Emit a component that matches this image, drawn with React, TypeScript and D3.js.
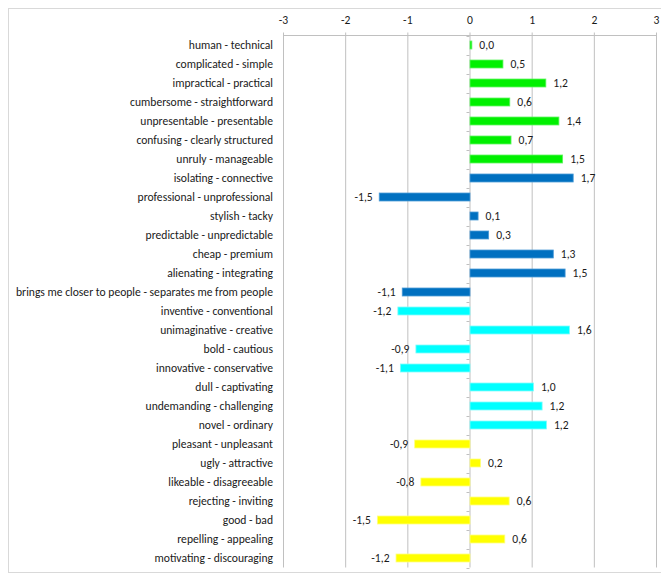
import * as d3 from 'd3';
import React, { useEffect, useRef } from 'react';

const labels = [
  'human - technical',
  'complicated - simple',
  'impractical - practical',
  'cumbersome - straightforward',
  'unpresentable - presentable',
  'confusing - clearly structured',
  'unruly - manageable',
  'isolating - connective',
  'professional - unprofessional',
  'stylish - tacky',
  'predictable - unpredictable',
  'cheap - premium',
  'alienating - integrating',
  'brings me closer to people - separates me from people',
  'inventive - conventional',
  'unimaginative - creative',
  'bold - cautious',
  'innovative - conservative',
  'dull - captivating',
  'undemanding - challenging',
  'novel - ordinary',
  'pleasant - unpleasant',
  'ugly - attractive',
  'likeable - disagreeable',
  'rejecting - inviting',
  'good - bad',
  'repelling - appealing',
  'motivating - discouraging',
];

const values = [
  0.03, 0.53, 1.22, 0.64, 1.43, 0.66, 1.49,
  1.66, -1.46, 0.13, 0.3, 1.34, 1.53, -1.09,
  -1.16, 1.6, -0.87, -1.12, 1.02, 1.16, 1.23,
  -0.89, 0.17, -0.79, 0.63, -1.49, 0.56, -1.19,
];

// group of each row: 0 = pragmatic, 1 = identity, 2 = hedonic stimulation, 3 = attractiveness
const groups = [
  0, 0, 0, 0, 0, 0, 0,
  1, 1, 1, 1, 1, 1, 1,
  2, 2, 2, 2, 2, 2, 2,
  3, 3, 3, 3, 3, 3, 3,
];

const groupColors = ['#00f000', '#0070c0', '#00ffff', '#ffff00'];
const groupStroke = ['#5ef55e', '#4a9ad6', '#7ffcfc', '#ffff80'];
const xTicks = [-3, -2, -1, 0, 1, 2, 3];

const W = 661;
const H = 574;
const fmt = (v: number) => v.toFixed(1).replace('.', ',');

export default function App() {
  const svgRef = useRef<SVGSVGElement>(null);

  useEffect(() => {
    const svg = d3.select(svgRef.current).html('');
    const font = 'Carlito, Calibri, Lato, sans-serif';
    const fs = 11.6;
    const ink = '#1a1a1a';

    const x = d3.scaleLinear().domain([-3, 3]).range([283, 656]);
    const y = d3.scaleBand<number>()
      .domain(d3.range(labels.length))
      .range([35.5, 567.5])
      .paddingInner(0.58)
      .paddingOuter(0.29);
    const step = y.step();
    const top = 35.5;
    const bottom = 567.5;

    // outer border
    svg.append('rect')
      .attr('x', 8.5).attr('y', 8.5)
      .attr('width', W + 10).attr('height', 564)
      .attr('fill', 'white').attr('stroke', '#d9d9d9');

    // vertical gridlines
    svg.append('g')
      .selectAll('line')
      .data(xTicks)
      .enter().append('line')
      .attr('x1', d => x(d) + 0.5).attr('x2', d => x(d) + 0.5)
      .attr('y1', top - 3).attr('y2', bottom)
      .attr('stroke', '#c0c0c0');

    // top axis line
    svg.append('line')
      .attr('x1', x(-3)).attr('x2', x(3) + 1)
      .attr('y1', top).attr('y2', top)
      .attr('stroke', '#c0c0c0');

    // tick labels
    svg.append('g')
      .selectAll('text')
      .data(xTicks)
      .enter().append('text')
      .attr('x', d => x(d) + 0.5)
      .attr('y', 24)
      .attr('text-anchor', 'middle')
      .attr('font-family', font)
      .attr('font-size', fs)
      .attr('fill', ink)
      .text(d => String(d));

    // category ticks on the zero axis
    svg.append('g')
      .selectAll('line')
      .data(d3.range(labels.length + 1))
      .enter().append('line')
      .attr('x1', x(0) - 3).attr('x2', x(0))
      .attr('y1', i => Math.round(top + i * step) + 0.5)
      .attr('y2', i => Math.round(top + i * step) + 0.5)
      .attr('stroke', '#c0c0c0');

    // category labels
    svg.append('g')
      .selectAll('text')
      .data(labels)
      .enter().append('text')
      .attr('x', 273)
      .attr('y', (_, i) => y(i)! + y.bandwidth() / 2)
      .attr('dy', '0.35em')
      .attr('text-anchor', 'end')
      .attr('font-family', font)
      .attr('font-size', fs)
      .attr('fill', ink)
      .text(d => d);

    // bars
    svg.append('g')
      .selectAll('rect')
      .data(values)
      .enter().append('rect')
      .attr('x', d => x(Math.min(0, d)) + 0.5)
      .attr('y', (_, i) => y(i)!)
      .attr('width', d => Math.abs(x(d) - x(0)))
      .attr('height', y.bandwidth())
      .attr('fill', (_, i) => groupColors[groups[i]])
      .attr('stroke', (_, i) => groupStroke[groups[i]])
      .attr('stroke-width', 0.8);

    // value labels
    svg.append('g')
      .selectAll('text')
      .data(values)
      .enter().append('text')
      .attr('x', d => (d >= 0 ? x(d) + 8 : x(d) - 6))
      .attr('y', (_, i) => y(i)! + y.bandwidth() / 2)
      .attr('dy', '0.35em')
      .attr('text-anchor', d => (d >= 0 ? 'start' : 'end'))
      .attr('font-family', font)
      .attr('font-size', fs)
      .attr('fill', ink)
      .text(d => fmt(d));
  }, []);

  return (
    <div style={{ position: 'absolute', left: 0, top: 0 }}>
      <svg ref={svgRef} width={W} height={H} style={{ display: 'block' }} />
    </div>
  );
}
